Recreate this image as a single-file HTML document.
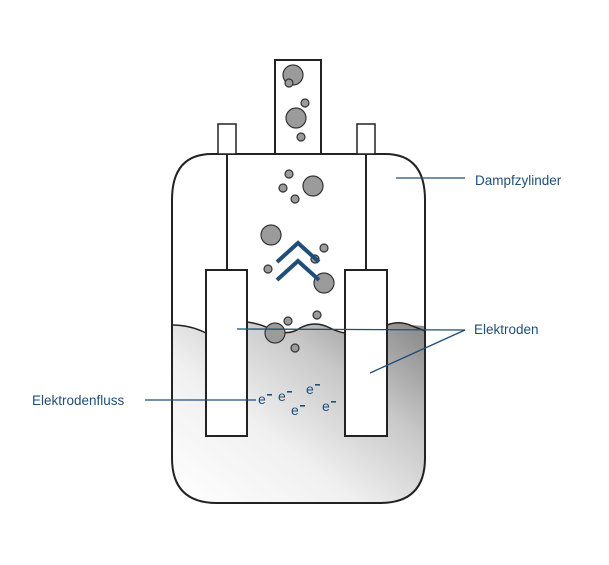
<!DOCTYPE html>
<html><head><meta charset="utf-8"><style>
html,body{margin:0;padding:0;background:#fff;}
svg{display:block;}
text{font-family:"Liberation Sans",sans-serif;fill:#1f4e79;}
</style></head><body>
<svg width="609" height="565" viewBox="0 0 609 565" xmlns="http://www.w3.org/2000/svg">
<defs>
<linearGradient id="g" x1="0.05" y1="1" x2="1" y2="0.1">
<stop offset="0" stop-color="#ffffff"/>
<stop offset="0.4" stop-color="#f0f0f0"/>
<stop offset="0.72" stop-color="#c8c8c8"/>
<stop offset="1" stop-color="#909090"/>
</linearGradient>
<clipPath id="body"><path d="M212,154 H385 Q425,154 425,200 V458 Q425,503 380,503 H217 Q172,503 172,458 V200 Q172,154 212,154 Z"/></clipPath>
</defs>
<g clip-path="url(#body)">
<path d="M170,325 Q190,325 206,333 L247,333 L247,322 Q262,324 272,330 Q290,336 300,328 Q315,320 330,328 Q338,332 345,333 L387,333 L387,325 Q400,320 410,325 L425,326 L425,510 L170,510 Z" fill="url(#g)"/>
</g>
<path d="M172,325 Q190,325 206,333" fill="none" stroke="#222" stroke-width="1.5"/>
<path d="M247,322 Q262,324 272,330 Q290,336 300,328 Q315,320 330,328 Q338,332 345,333" fill="none" stroke="#222" stroke-width="1.5"/>
<path d="M387,325 Q400,320 412,326 L425,331" fill="none" stroke="#222" stroke-width="1.5"/>
<path d="M212,154 H385 Q425,154 425,200 V458 Q425,503 380,503 H217 Q172,503 172,458 V200 Q172,154 212,154 Z" fill="none" stroke="#222" stroke-width="2"/>
<rect x="275" y="60" width="46" height="94" fill="#fff" stroke="#222" stroke-width="2"/>
<rect x="218" y="124" width="18" height="30" fill="#fff" stroke="#222" stroke-width="1.5"/>
<rect x="357" y="124" width="18" height="30" fill="#fff" stroke="#222" stroke-width="1.5"/>
<line x1="227" y1="154" x2="227" y2="270" stroke="#222" stroke-width="2"/>
<line x1="366" y1="154" x2="366" y2="270" stroke="#222" stroke-width="2"/>
<rect x="206" y="270" width="41" height="166" fill="#fff" stroke="#222" stroke-width="2"/>
<rect x="345" y="270" width="42" height="166" fill="#fff" stroke="#222" stroke-width="2"/>
<g fill="#9b9b9b" stroke="#333" stroke-width="1.2">
<circle cx="293" cy="75" r="10"/><circle cx="289" cy="83" r="4"/><circle cx="305" cy="103" r="4"/>
<circle cx="296" cy="118" r="10"/><circle cx="301" cy="137" r="4"/><circle cx="289" cy="174" r="4"/>
<circle cx="283" cy="188" r="4"/><circle cx="313" cy="186" r="10"/><circle cx="295" cy="199" r="4"/>
<circle cx="271" cy="235" r="10"/><circle cx="324" cy="248" r="4"/><circle cx="315" cy="259" r="4"/>
<circle cx="268" cy="269" r="4"/><circle cx="324" cy="283" r="10"/><circle cx="288" cy="321" r="4"/>
<circle cx="317" cy="315" r="4"/><circle cx="275" cy="333" r="10"/><circle cx="295" cy="348" r="4"/>
</g>
<g fill="none" stroke="#1f4e79" stroke-width="4">
<polyline points="277,262 298,243 319,262"/>
<polyline points="277,280 298,261 319,280"/>
</g>
<g stroke="#1f4e79" stroke-width="1.3" fill="none">
<line x1="396" y1="178" x2="465" y2="178"/>
<line x1="237" y1="329" x2="465" y2="330"/>
<line x1="370" y1="373" x2="465" y2="330"/>
<line x1="145" y1="400" x2="256" y2="400"/>
</g>
<text x="475" y="185" font-size="13.5">Dampfzylinder</text>
<text x="474" y="334" font-size="13.5">Elektroden</text>
<text x="32" y="405" font-size="13.5">Elektrodenfluss</text>
<g font-size="14">
<text x="258" y="404">e</text><rect x="267" y="394" width="5" height="1.6" fill="#1f4e79"/>
<text x="278" y="401">e</text><rect x="287" y="391" width="5" height="1.6" fill="#1f4e79"/>
<text x="306" y="394">e</text><rect x="315" y="384" width="5" height="1.6" fill="#1f4e79"/>
<text x="291" y="415">e</text><rect x="300" y="405" width="5" height="1.6" fill="#1f4e79"/>
<text x="322" y="411">e</text><rect x="331" y="401" width="5" height="1.6" fill="#1f4e79"/>
</g>
</svg>
</body></html>
